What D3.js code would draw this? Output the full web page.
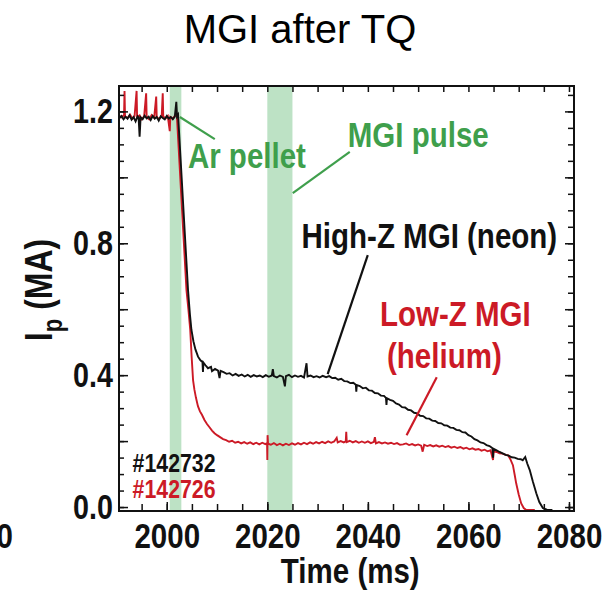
<!DOCTYPE html>
<html>
<head>
<meta charset="utf-8">
<script src="https://cdn.jsdelivr.net/npm/d3@7"></script>
<style>
  body { margin: 0; background: #fff; }
  .lab { font-family: "Liberation Sans", Arial, sans-serif; font-weight: bold; }
</style>
</head>
<body>
<div id="chart"></div>
<script>

// Ip traces for the two shots (time in ms, current in MA)
var shots = ["#142732", "#142726"];

// injection windows (green bands)
var bandStart = [2000.6, 2020.0];
var bandEnd = [2002.9, 2025.0];

var xTickLabels = [2000, 2020, 2040, 2060, 2080];
var yTickLabels = [0.0, 0.4, 0.8, 1.2];

// #142732, high-Z MGI (neon)
var neonTrace = [
  [1990.6, 1.180], [1991.0, 1.186], [1991.4, 1.176], [1991.8, 1.184], [1992.2, 1.178],
  [1992.6, 1.188], [1993.0, 1.175], [1993.4, 1.183], [1993.8, 1.170], [1994.2, 1.185],
  [1994.4, 1.181], [1994.6, 1.123], [1994.8, 1.182], [1995.2, 1.176], [1995.6, 1.187],
  [1996.0, 1.179], [1996.4, 1.184], [1996.8, 1.174], [1997.2, 1.186], [1997.6, 1.178],
  [1998.0, 1.183], [1998.4, 1.172], [1998.8, 1.185], [1999.2, 1.180], [1999.6, 1.176],
  [2000.0, 1.186], [2000.4, 1.178], [2000.8, 1.183], [2001.2, 1.176], [2001.6, 1.184],
  [2001.9, 1.229], [2002.05, 1.185], [2002.25, 1.190],
  [2004.23, 0.658], [2004.6, 0.585], [2004.91, 0.537], [2005.3, 0.503], [2005.7, 0.478],
  [2006.22, 0.456], [2006.7, 0.445], [2007.1, 0.440], [2007.2, 0.410], [2007.3, 0.438],
  [2007.7, 0.430], [2008.2, 0.421], [2008.8, 0.425], [2009.0, 0.412], [2009.6, 0.419],
  [2010.2, 0.414], [2010.5, 0.391], [2010.7, 0.413], [2011.3, 0.409], [2011.9, 0.404],
  [2012.5, 0.406], [2013.1, 0.399], [2013.7, 0.404], [2014.3, 0.398], [2014.9, 0.402],
  [2015.5, 0.396], [2016.1, 0.401], [2016.7, 0.395], [2017.3, 0.400], [2017.9, 0.396],
  [2018.5, 0.399], [2019.1, 0.394], [2019.7, 0.400], [2020.3, 0.395], [2020.9, 0.399],
  [2021.1, 0.418], [2021.3, 0.397], [2021.9, 0.393], [2022.5, 0.399], [2023.1, 0.395],
  [2023.5, 0.366], [2023.7, 0.397], [2024.3, 0.401], [2024.9, 0.394], [2025.5, 0.399],
  [2026.1, 0.395], [2026.7, 0.398], [2027.3, 0.393], [2027.8, 0.436], [2028.0, 0.396],
  [2028.6, 0.399], [2029.2, 0.394], [2029.8, 0.397], [2030.4, 0.393], [2031.0, 0.398],
  [2031.7, 0.394], [2032.3, 0.397], [2032.9, 0.391], [2033.5, 0.392], [2034.1, 0.386],
  [2034.7, 0.389], [2035.3, 0.382], [2035.9, 0.381], [2036.5, 0.376], [2037.1, 0.377],
  [2037.6, 0.371], [2037.7, 0.350], [2037.8, 0.370], [2038.4, 0.367], [2039.0, 0.360],
  [2039.6, 0.362], [2040.2, 0.354], [2040.8, 0.353], [2041.4, 0.346], [2042.0, 0.345],
  [2042.6, 0.338], [2043.2, 0.337], [2043.6, 0.331], [2043.7, 0.310], [2043.8, 0.330],
  [2044.4, 0.325], [2045.0, 0.322], [2045.6, 0.314], [2046.2, 0.311], [2046.8, 0.303],
  [2047.4, 0.302], [2048.0, 0.295], [2048.6, 0.293], [2049.2, 0.286], [2049.8, 0.284],
  [2050.4, 0.277], [2051.0, 0.276], [2051.6, 0.269], [2052.2, 0.268], [2052.8, 0.262],
  [2053.4, 0.261], [2054.0, 0.255], [2054.6, 0.254], [2055.2, 0.248], [2055.8, 0.247],
  [2056.4, 0.241], [2057.0, 0.240], [2057.6, 0.234], [2058.2, 0.233], [2058.8, 0.227],
  [2059.4, 0.226], [2060.0, 0.218], [2060.6, 0.214], [2061.2, 0.206], [2061.8, 0.202],
  [2062.4, 0.196], [2063.0, 0.194], [2063.6, 0.188], [2064.2, 0.185], [2064.8, 0.178],
  [2064.9, 0.150], [2065.0, 0.177], [2065.6, 0.172], [2066.2, 0.167], [2066.8, 0.163],
  [2067.4, 0.158], [2068.0, 0.156], [2068.6, 0.151], [2069.2, 0.150], [2069.8, 0.146],
  [2070.4, 0.145], [2070.8, 0.142], [2071.3, 0.152], [2071.7, 0.132], [2072.2, 0.112],
  [2072.8, 0.078], [2073.5, 0.042], [2074.1, 0.015], [2074.8, -0.003], [2075.6, -0.008],
  [2076.7, -0.009]
];

// #142726, low-Z MGI (helium)
var heliumTrace = [
  [1990.6, 1.186], [1991.0, 1.182], [1991.5, 1.188], [1991.6, 1.262], [1991.7, 1.184],
  [1992.2, 1.180], [1992.7, 1.190], [1993.2, 1.178], [1993.6, 1.186], [1994.0, 1.262],
  [1994.1, 1.183], [1994.6, 1.188], [1995.0, 1.176], [1995.5, 1.185], [1995.9, 1.255],
  [1996.0, 1.182], [1996.5, 1.176], [1997.0, 1.189], [1997.5, 1.181], [1997.9, 1.245],
  [1998.0, 1.183], [1998.5, 1.177], [1999.0, 1.187], [1999.2, 1.255], [1999.3, 1.184],
  [1999.8, 1.179], [2000.2, 1.186], [2000.6, 1.140], [2000.7, 1.183], [2001.2, 1.178],
  [2001.6, 1.186], [2002.0, 1.190],
  [2003.92, 0.658], [2004.3, 0.600], [2004.67, 0.537], [2004.95, 0.455], [2005.23, 0.385],
  [2005.5, 0.356], [2005.8, 0.332], [2006.2, 0.306], [2006.6, 0.290], [2007.0, 0.280],
  [2007.5, 0.264], [2008.0, 0.252], [2008.5, 0.242], [2009.0, 0.232], [2009.5, 0.224],
  [2010.0, 0.218], [2010.6, 0.212], [2011.2, 0.206], [2011.8, 0.203], [2012.4, 0.198],
  [2013.0, 0.201], [2013.6, 0.195], [2014.2, 0.198], [2014.8, 0.193], [2015.4, 0.197],
  [2016.0, 0.192], [2016.6, 0.196], [2017.2, 0.191], [2017.8, 0.195], [2018.4, 0.190],
  [2019.0, 0.195], [2019.6, 0.191], [2019.95, 0.194], [2020.0, 0.143], [2020.05, 0.218],
  [2020.15, 0.192], [2020.7, 0.189], [2021.3, 0.194], [2021.9, 0.188], [2022.5, 0.192],
  [2023.1, 0.187], [2023.7, 0.192], [2024.3, 0.188], [2024.9, 0.193], [2025.5, 0.189],
  [2026.1, 0.194], [2026.7, 0.190], [2027.3, 0.195], [2027.9, 0.191], [2028.5, 0.196],
  [2029.1, 0.192], [2029.7, 0.197], [2030.3, 0.193], [2030.9, 0.198], [2031.5, 0.194],
  [2032.1, 0.199], [2032.7, 0.195], [2033.3, 0.199], [2033.8, 0.210], [2034.0, 0.196],
  [2034.6, 0.200], [2035.2, 0.196], [2035.6, 0.199], [2035.7, 0.228], [2035.8, 0.197],
  [2036.4, 0.201], [2037.0, 0.196], [2037.6, 0.200], [2038.2, 0.195], [2038.8, 0.199],
  [2039.4, 0.195], [2040.0, 0.199], [2040.6, 0.194], [2041.2, 0.198], [2041.4, 0.212],
  [2041.6, 0.193], [2042.2, 0.197], [2042.8, 0.193], [2043.4, 0.196], [2044.0, 0.192],
  [2044.6, 0.195], [2045.2, 0.191], [2045.8, 0.194], [2046.4, 0.189], [2047.0, 0.190],
  [2047.6, 0.193], [2048.2, 0.188], [2048.8, 0.191], [2049.4, 0.187], [2050.0, 0.190],
  [2050.6, 0.186], [2050.9, 0.168], [2051.2, 0.189], [2051.8, 0.185], [2052.4, 0.188],
  [2053.0, 0.184], [2053.6, 0.187], [2054.2, 0.183], [2054.8, 0.186], [2055.4, 0.182],
  [2056.0, 0.185], [2056.6, 0.180], [2057.2, 0.183], [2057.8, 0.179], [2058.4, 0.182],
  [2059.0, 0.177], [2059.6, 0.180], [2060.2, 0.175], [2060.8, 0.178], [2061.4, 0.174],
  [2062.0, 0.176], [2062.6, 0.171], [2063.2, 0.174], [2063.8, 0.169], [2064.4, 0.172],
  [2064.9, 0.143], [2065.0, 0.169], [2065.6, 0.167], [2066.2, 0.163], [2066.8, 0.162],
  [2067.4, 0.158], [2067.9, 0.157], [2068.4, 0.143], [2068.85, 0.127], [2069.2, 0.098],
  [2069.5, 0.072], [2070.0, 0.038], [2070.5, 0.011], [2071.0, -0.003], [2071.5, -0.009],
  [2073.2, -0.009]
];


var margin = {
  left: 119,
  right: 28,
  top: 86,
  bottom: 82
};

var colors = {
  neon: "#111111",
  helium: "#cc1a26",
  green: "#3f9f4c",
  band: "#bde2c5"
};

// the figure uses a condensed bold face; squeeze Liberation Sans Bold to match
var narrow = 0.82;

function drawChart() {

  var chart = this;

  chart.width = 602 - margin.left - margin.right;
  chart.height = 593 - margin.top - margin.bottom;

  var svg = d3.select("#chart")
    .append("svg")
    .attr("width", 602)
    .attr("height", 593);

  chart.svg = svg.append("g")
    .attr("transform", "translate(" + margin.left + "," + margin.top + ")");

  chart.xScale = d3.scaleLinear()
    .domain([1990.5, 2081])
    .range([0, chart.width]);

  chart.yScale = d3.scaleLinear()
    .domain([-0.012, 1.277])
    .range([chart.height, 0]);

  var x = chart.xScale, y = chart.yScale;

  // title
  svg.append("text")
    .attr("x", 300)
    .attr("y", 43)
    .attr("text-anchor", "middle")
    .style("font-family", "'Liberation Sans', Arial, sans-serif")
    .style("font-size", "40px")
    .text("MGI after TQ");

  // injection bands
  chart.svg.selectAll(".band")
    .data(bandStart).enter()
    .append("rect")
    .attr("class", "band")
    .attr("x", function(d){ return x(d); })
    .attr("width", function(d, i){ return x(bandEnd[i]) - x(d); })
    .attr("y", 0)
    .attr("height", chart.height)
    .attr("fill", colors.band);

  // traces
  var line = d3.line()
    .x(function(d){ return x(d[0]); })
    .y(function(d){ return y(d[1]); });

  chart.svg.append("path")
    .datum(heliumTrace)
    .attr("d", line)
    .attr("fill", "none")
    .attr("stroke", colors.helium)
    .attr("stroke-width", 1.9);

  chart.svg.append("path")
    .datum(neonTrace)
    .attr("d", line)
    .attr("fill", "none")
    .attr("stroke", colors.neon)
    .attr("stroke-width", 1.9);

  // axes: ticks point inward on all four sides
  var minorY = d3.range(0, 1.2501, 0.05);
  var majorY = d3.range(0, 1.2001, 0.2);
  var minorX = d3.range(1995, 2081, 5);

  function yFmt(d) {
    return yTickLabels.some(function(v){ return Math.abs(v - d) < 1e-6; }) ? d3.format(".1f")(d) : "";
  }

  chart.svg.append("g").attr("class", "axis")
    .call(d3.axisLeft(y).tickValues(minorY).tickSize(-5).tickFormat(""));
  chart.svg.append("g").attr("class", "axis lab ylab")
    .call(d3.axisLeft(y).tickValues(majorY).tickSize(-9).tickPadding(0).tickFormat(yFmt));

  chart.svg.append("g").attr("class", "axis")
    .attr("transform", "translate(" + chart.width + ",0)")
    .call(d3.axisRight(y).tickValues(minorY).tickSize(-6).tickFormat(""));
  chart.svg.append("g").attr("class", "axis")
    .attr("transform", "translate(" + chart.width + ",0)")
    .call(d3.axisRight(y).tickValues(majorY).tickSize(-9).tickFormat(""));

  chart.svg.append("g").attr("class", "axis")
    .call(d3.axisTop(x).tickValues(minorX).tickSize(-6).tickFormat(""));

  chart.svg.append("g").attr("class", "axis")
    .attr("transform", "translate(0," + chart.height + ")")
    .call(d3.axisBottom(x).tickValues(minorX).tickSize(-7).tickFormat(""));
  chart.svg.append("g").attr("class", "axis lab xlab")
    .attr("transform", "translate(0," + chart.height + ")")
    .call(d3.axisBottom(x).tickValues(xTickLabels).tickSize(-9).tickPadding(11).tickFormat(d3.format("d")));

  chart.svg.selectAll(".axis .domain").remove();
  chart.svg.selectAll(".axis line").attr("stroke", "#111").attr("stroke-width", 1.5);
  chart.svg.selectAll(".ylab text")
    .style("font-size", "35px").attr("fill", "#111")
    .attr("transform", "translate(-6,0) scale(" + narrow + ",1)");
  chart.svg.selectAll(".xlab text")
    .style("font-size", "36px").attr("fill", "#111")
    .attr("transform", "scale(" + narrow + ",1)");

  // frame
  chart.svg.append("rect")
    .attr("width", chart.width)
    .attr("height", chart.height)
    .attr("fill", "none")
    .attr("stroke", "#111")
    .attr("stroke-width", 2);

  function squeezed(parent, px, py, size, color, anchor) {
    return parent.append("text")
      .attr("class", "lab")
      .attr("transform", "translate(" + px + "," + py + ") scale(" + narrow + ",1)")
      .attr("text-anchor", anchor || "start")
      .style("font-size", size + "px")
      .attr("fill", color);
  }

  // axis titles
  squeezed(chart.svg, x(2036.5), chart.height + 72, 36, "#111", "middle")
    .text("Time (ms)");

  var yt = svg.append("text")
    .attr("class", "lab")
    .attr("transform", "translate(52,290) rotate(-90) scale(" + narrow + ",1)")
    .attr("text-anchor", "middle")
    .style("font-size", "39px")
    .attr("fill", "#111");
  yt.append("tspan").text("I");
  yt.append("tspan").attr("dy", 10).style("font-size", "27px").text("p");
  yt.append("tspan").attr("dy", -10).text(" (MA)");

  // cut-off tick label from the neighbouring panel
  squeezed(svg, 13, 548, 36, "#111", "end").text("0");

  // annotations
  function leader(t0, v0, t1, v1, color) {
    chart.svg.append("line")
      .attr("x1", x(t0)).attr("y1", y(v0))
      .attr("x2", x(t1)).attr("y2", y(v1))
      .attr("stroke", color)
      .attr("stroke-width", 2.2);
  }

  function note(t, v, txt, color, size) {
    squeezed(chart.svg, x(t), y(v), size, color).text(txt);
  }

  leader(2002.6, 1.183, 2009.55, 1.116, colors.green);
  leader(2036.4, 1.077, 2025.06, 0.952, colors.green);
  leader(2039.98, 0.764, 2032.0, 0.403, colors.neon);
  leader(2053.7, 0.394, 2047.7, 0.218, colors.helium);

  note(2004.2, 1.028, "Ar pellet", colors.green, 36);
  note(2036.0, 1.093, "MGI pulse", colors.green, 36);
  note(2026.8, 0.785, "High-Z MGI (neon)", colors.neon, 36);
  note(2042.4, 0.549, "Low-Z MGI", colors.helium, 36);
  note(2043.8, 0.4216, "(helium)", colors.helium, 36);

  note(1993.2, 0.106, shots[0], colors.neon, 26);
  note(1993.2, 0.027, shots[1], colors.helium, 26);
}

drawChart();

</script>
</body>
</html>
